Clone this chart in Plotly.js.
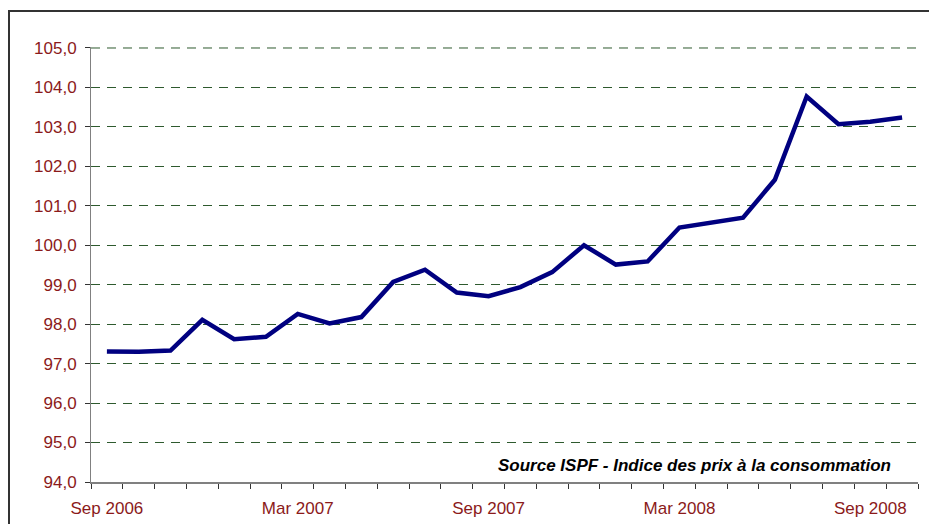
<!DOCTYPE html>
<html>
<head>
<meta charset="utf-8">
<script src="https://cdn.plot.ly/plotly-3.0.1.min.js"></script>
<style>
html,body{margin:0;padding:0;background:#fff;}
#wrap{position:relative;width:929px;height:524px;overflow:hidden;}
#chart{width:929px;height:524px;}
#frame{position:absolute;left:8px;top:10px;width:940px;height:540px;border:2px solid #333;pointer-events:none;box-sizing:border-box;}
</style>
</head>
<body>
<div id="wrap"><div id="chart"></div><div id="frame"></div></div>
<script>
const months = ["Sep 2006","Oct 2006","Nov 2006","Dec 2006","Jan 2007","Feb 2007","Mar 2007","Apr 2007","May 2007","Jun 2007","Jul 2007","Aug 2007","Sep 2007","Oct 2007","Nov 2007","Dec 2007","Jan 2008","Feb 2008","Mar 2008","Apr 2008","May 2008","Jun 2008","Jul 2008","Aug 2008","Sep 2008","Oct 2008"];
const cpi = [97.31,97.30,97.33,98.11,97.62,97.68,98.26,98.02,98.18,99.07,99.38,98.80,98.71,98.94,99.32,100.00,99.51,99.59,100.45,100.58,100.70,101.66,103.77,103.07,103.13,103.24];
const labelIdx = [0,6,12,18,24];
const yTicks = [94,95,96,97,98,99,100,101,102,103,104,105];
const sourceText = "Source ISPF - Indice des prix à la consommation";

const xIdx = months.map((m,i)=>i);
const trace = {
  x: xIdx, y: cpi, type: 'scatter', mode: 'lines',
  line: {color: '#000080', width: 4.5}, hoverinfo: 'skip'
};
const gridColor = '#2e5a2e';
const layout = {
  width: 929, height: 524,
  margin: {l: 91, r: 11, t: 47, b: 42},
  paper_bgcolor: '#fff', plot_bgcolor: '#fff',
  showlegend: false,
  separators: ', ',
  xaxis: {
    range: [-0.5, 25.5], showgrid: false, zeroline: false,
    showline: true, linecolor: '#808080', linewidth: 2,
    tickvals: labelIdx, ticktext: labelIdx.map(i=>months[i]),
    ticks: '', ticklabelstandoff: 10,
    tickfont: {family: 'Arial, Liberation Sans, sans-serif', size: 17, color: '#8B1A1A'},
    minor: {tick0: -0.5, dtick: 1, ticks: 'outside', ticklen: 5, tickcolor: '#333', tickwidth: 1, showgrid: false}
  },
  yaxis: {
    range: [94, 105.025], tickvals: yTicks, tickformat: '.1f',
    showline: true, linecolor: '#808080', linewidth: 1, zeroline: false,
    ticks: 'outside', ticklen: 5, tickcolor: '#333', ticklabelstandoff: 5,
    showgrid: true, gridcolor: gridColor, gridwidth: 1, griddash: '9px,7px',
    tickfont: {family: 'Arial, Liberation Sans, sans-serif', size: 17, color: '#8B1A1A'}
  },
  shapes: [{
    type: 'line', xref: 'paper', yref: 'y', x0: 0, x1: 1, y0: yTicks[yTicks.length-1], y1: yTicks[yTicks.length-1],
    line: {color: gridColor, width: 1, dash: '9px,7px'}, layer: 'below'
  }],
  annotations: [{
    text: '<b><i>' + sourceText + '</i></b>', xref: 'x', yref: 'y',
    x: 24.7, y: 94.43, xanchor: 'right', yanchor: 'middle', showarrow: false,
    font: {family: 'Arial, Liberation Sans, sans-serif', size: 17, color: '#000'}
  }]
};
Plotly.newPlot('chart', [trace], layout, {displayModeBar: false, staticPlot: true});
</script>
</body>
</html>
